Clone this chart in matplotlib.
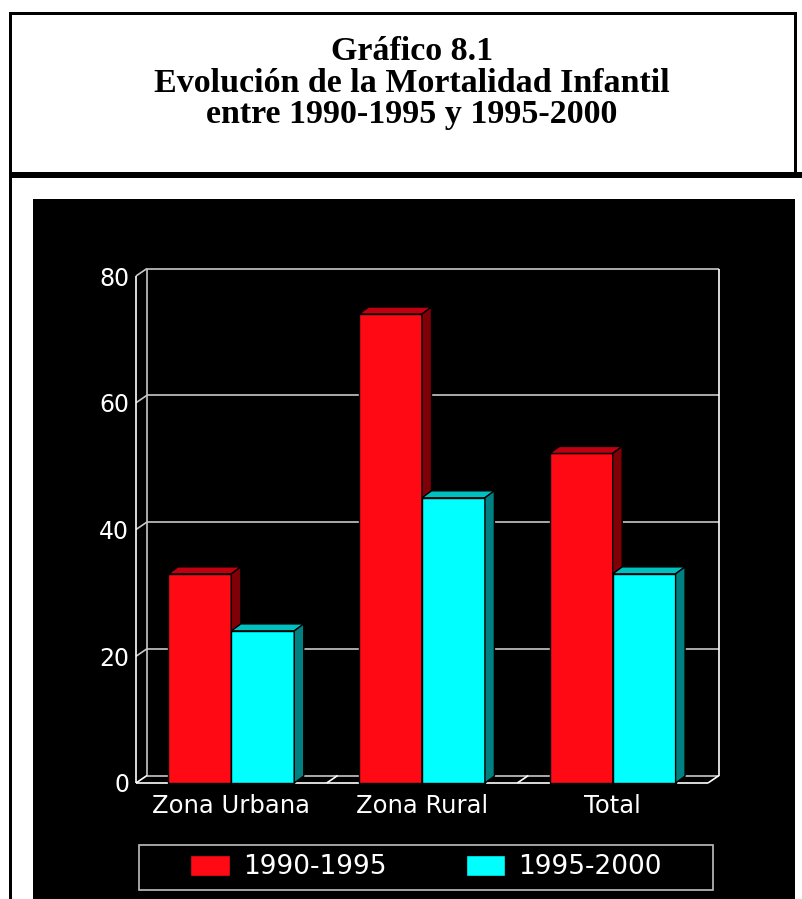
import matplotlib.pyplot as plt
import numpy as np
from matplotlib.patches import Rectangle, Polygon, Patch

# datos
categories = ['Zona Urbana', 'Zona Rural', 'Total']
series_names = ['1990-1995', '1995-2000']
values_9095 = [33.0, 74.0, 52.0]
values_9500 = [24.0, 45.0, 33.0]
y_ticks = [0, 20, 40, 60, 80]

W, H = 803, 899
fig = plt.figure(figsize=(W / 100, H / 100), dpi=100)
fig.patch.set_facecolor('white')


def fx(px):
    return px / W


def fy(py):
    return 1 - py / H


def box(x0, y0, x1, y1, fc='black', ec='none', z=-5):
    # rectángulo en píxeles de la página
    fig.add_artist(Rectangle((fx(x0), fy(y1)), fx(x1) - fx(x0), fy(y0) - fy(y1),
                             transform=fig.transFigure, facecolor=fc, edgecolor=ec,
                             lw=1.2, zorder=z))


# marco de la página y fondo negro
box(33, 199, 795, 899)
box(9, 12, 12, 899)
box(9, 12, 797, 15)
box(794, 12, 797, 178)
box(9, 172, 803, 178)

# título
title_lines = ['Gráfico 8.1', 'Evolución de la Mortalidad Infantil', 'entre 1990-1995 y 1995-2000']
for line, base in zip(title_lines, [60, 92, 123]):
    fig.text(fx(412), fy(base), line, ha='center', va='baseline',
             family='Liberation Serif', weight='bold', fontsize=24.5, color='black')

# ejes (plano frontal)
ax = fig.add_axes([fx(136), fy(783), fx(708) - fx(136), (783 - 276) / H])
ax.set_xlim(-0.5, 2.5)
ax.set_ylim(0, 80)
ax.patch.set_visible(False)
for s in ax.spines.values():
    s.set_visible(False)

xr = ax.get_xlim()
ppx = ax.bbox.width / (xr[1] - xr[0])
ppy = ax.bbox.height / 80.0
wdx, wdy = 11 / ppx, 7.5 / ppy     # profundidad de la pared
bdx, bdy = 9.5 / ppx, 7 / ppy      # profundidad de las barras

grid_c = '#c8c8c8'
x0, x1 = xr
kw = dict(clip_on=False, lw=1.2, solid_capstyle='butt')
# pared del fondo
for t in y_ticks[1:]:
    ax.plot([x0 + wdx, x1 + wdx], [t + wdy, t + wdy], color=grid_c, **kw)
    ax.plot([x0, x0 + wdx], [t, t + wdy], color=grid_c, **kw)
ax.plot([x0 + wdx] * 2, [wdy, 80 + wdy], color=grid_c, **kw)
ax.plot([x1 + wdx] * 2, [wdy, 80 + wdy], color='white', **kw)
# piso
ax.plot([x0 + wdx, x1 + wdx], [wdy, wdy], color=grid_c, **kw)
for b in [x0, 0.5, 1.5, x1]:
    ax.plot([b, b + wdx], [0, wdy], color='white', **kw)
ax.plot([x0, x0], [0, 80], color='white', **kw)
ax.plot([x0, x1], [0, 0], color='white', **kw)

# barras 3D
width = 0.33
xpos = np.arange(len(categories))
styles = [('#ff0a14', '#c00010', '#800008'), ('#00ffff', '#00c0c0', '#008080')]
for k, (vals, (front, top, side)) in enumerate(zip([values_9095, values_9500], styles)):
    xs = xpos + (k - 0.5) * width
    ax.bar(xs, vals, width, color=front, edgecolor='black', lw=1, zorder=3 + k, clip_on=False)
    for xc, v in zip(xs, vals):
        xl, xrr = xc - width / 2, xc + width / 2
        top_pts = [(xl, v), (xrr, v), (xrr + bdx, v + bdy), (xl + bdx, v + bdy)]
        side_pts = [(xrr, 0), (xrr + bdx, bdy), (xrr + bdx, v + bdy), (xrr, v)]
        for pts, c in [(top_pts, top), (side_pts, side)]:
            ax.add_patch(Polygon(pts, closed=True, facecolor=c, edgecolor='black',
                                 lw=1, zorder=3 + k, clip_on=False))

ax.set_yticks(y_ticks)
ax.set_yticklabels([str(t) for t in y_ticks])
ax.set_xticks(xpos)
ax.set_xticklabels(categories)
ax.tick_params(axis='y', length=0, pad=5, labelcolor='white', labelsize=17)
ax.tick_params(axis='x', length=0, pad=8, labelcolor='white', labelsize=17.5)

# leyenda: marco aparte y entradas centradas dentro
box(139, 845, 713, 890, fc='none', ec='#c0c0c0', z=5)
handles = [Patch(facecolor=s[0], edgecolor='black') for s in styles]
fig.legend(handles, series_names, loc='center',
           bbox_to_anchor=(fx(426), fy(867.5)), ncol=2, frameon=False,
           labelcolor='white', fontsize=19, handlelength=1.5, handleheight=0.85,
           handletextpad=0.5, columnspacing=3.0)

fig.savefig('out.png', dpi=100, facecolor='white')
